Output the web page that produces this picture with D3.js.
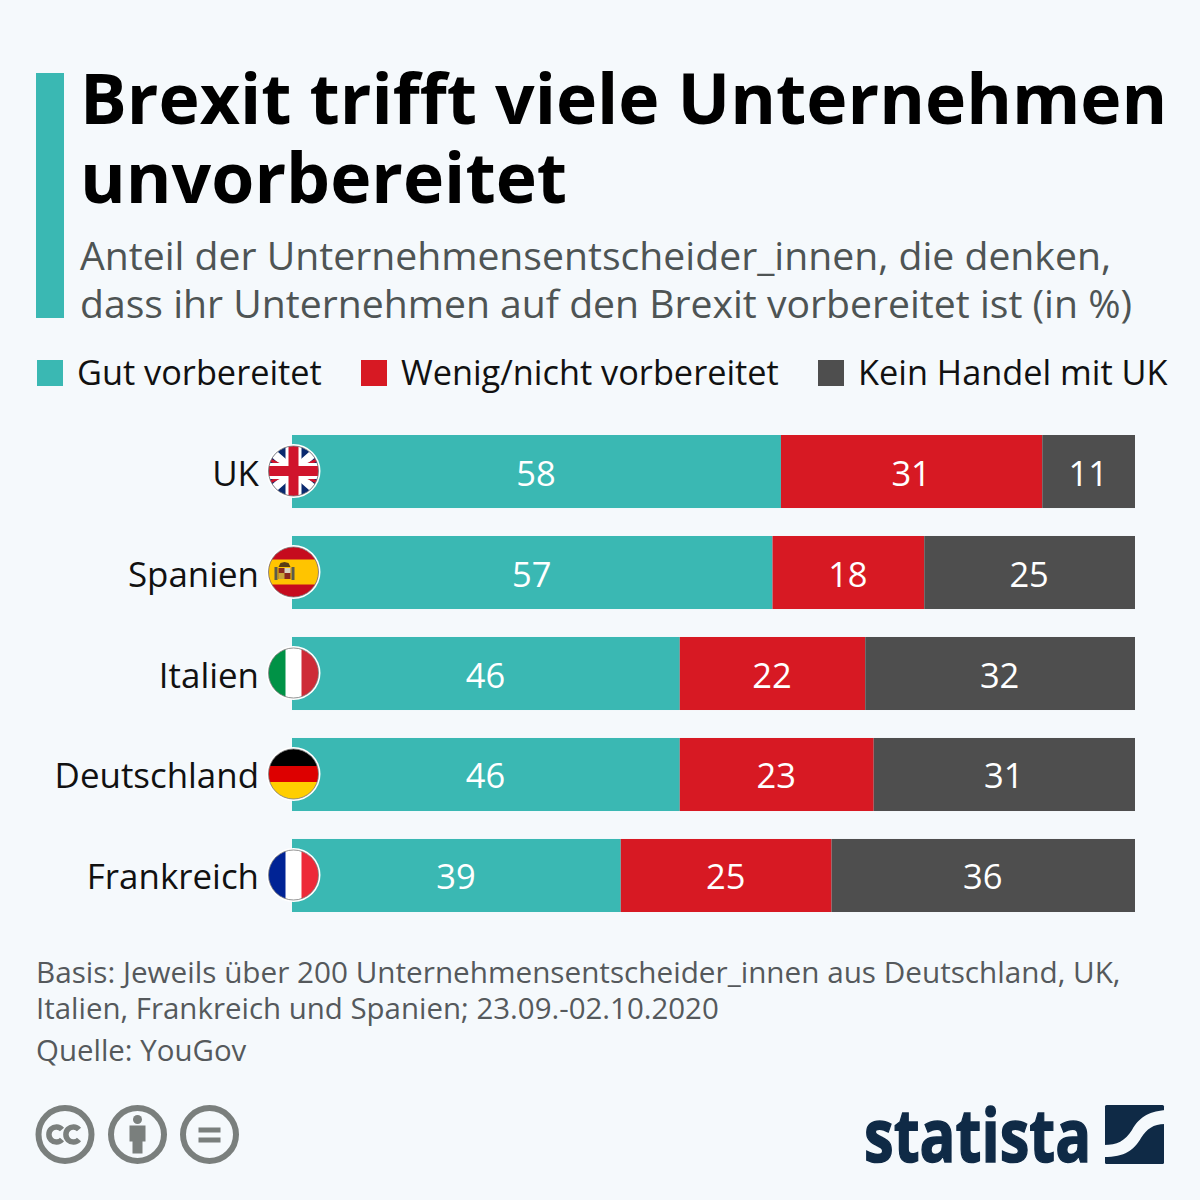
<!DOCTYPE html>
<html>
<head>
<meta charset="utf-8">
<script src="https://cdn.jsdelivr.net/npm/d3@7"></script>
<style>
html, body { margin: 0; padding: 0; background: #f5f9fc; }
svg { display: block; }
text { font-family: "Open Sans", sans-serif; }
</style>
</head>
<body>
<script>
// Daten
const categories = ["UK", "Spanien", "Italien", "Deutschland", "Frankreich"];
const gut = [58, 57, 46, 46, 39];
const wenig = [31, 18, 22, 23, 25];
const kein = [11, 25, 32, 31, 36];
const seriesNames = ["Gut vorbereitet", "Wenig/nicht vorbereitet", "Kein Handel mit UK"];
const seriesColors = ["#3ab8b3", "#d71923", "#4e4e4e"];
const titleLines = ["Brexit trifft viele Unternehmen", "unvorbereitet"];
const subtitleLines = ["Anteil der Unternehmensentscheider_innen, die denken,", "dass ihr Unternehmen auf den Brexit vorbereitet ist (in %)"];
const noteLines = ["Basis: Jeweils über 200 Unternehmensentscheider_innen aus Deutschland, UK,", "Italien, Frankreich und Spanien; 23.09.-02.10.2020"];
const sourceLine = "Quelle: YouGov";

const w = 1200;
const h = 1200;
const svg = d3.select("body").append("svg").attr("width", w).attr("height", h);
svg.append("rect").attr("width", w).attr("height", h).attr("fill", "#f5f9fc");
const defs = svg.append("defs");

// Kopf
svg.append("rect").attr("x", 36).attr("y", 73).attr("width", 28).attr("height", 245).attr("fill", "#3ab8b3");
svg.selectAll(".title").data(titleLines).enter().append("text")
    .attr("x", 80).attr("y", (d, i) => 124 + i * 79)
    .attr("font-size", 69.7).attr("font-weight", 700).attr("fill", "#000")
    .text(d => d);
svg.selectAll(".sub").data(subtitleLines).enter().append("text")
    .attr("x", 80).attr("y", (d, i) => 270 + i * 48)
    .attr("font-size", 39.15).attr("fill", "#4e5454")
    .text(d => d);

// Legende
const legendX = [37, 361, 818];
seriesNames.forEach((name, i) => {
    svg.append("rect").attr("x", legendX[i]).attr("y", 360).attr("width", 26).attr("height", 26).attr("fill", seriesColors[i]);
    svg.append("text").attr("x", legendX[i] + 40).attr("y", 385)
        .attr("font-size", 34.3).attr("fill", "#111").text(name);
});

// Skalen
const x = d3.scaleLinear().domain([0, 100]).range([292, 1135]);
const y = d3.scaleBand().domain(categories).range([421, 926]).paddingInner(0.277).paddingOuter(0.1386);

const rows = categories.map((c, i) => ({ c: c, values: [gut[i], wenig[i], kein[i]] }));
const stack = [];
rows.forEach(r => {
    let sum = 0;
    r.values.forEach((v, k) => {
        stack.push({ c: r.c, k: k, v: v, x0: sum, x1: sum + v });
        sum += v;
    });
});

svg.selectAll(".bar").data(stack).enter().append("rect")
    .attr("class", "bar")
    .attr("x", d => x(d.x0))
    .attr("y", d => y(d.c))
    .attr("width", d => x(d.x1) - x(d.x0))
    .attr("height", y.bandwidth())
    .attr("fill", d => seriesColors[d.k]);

svg.selectAll(".val").data(stack).enter().append("text")
    .attr("class", "val")
    .attr("x", d => x((d.x0 + d.x1) / 2) - 0.5)
    .attr("y", d => y(d.c) + y.bandwidth() / 2 + 14)
    .attr("text-anchor", "middle")
    .attr("font-size", 34.5)
    .attr("fill", "#fff")
    .text(d => d.v);

svg.selectAll(".cat").data(categories).enter().append("text")
    .attr("class", "cat")
    .attr("x", 259)
    .attr("y", d => y(d) + y.bandwidth() / 2 + 14)
    .attr("text-anchor", "end")
    .attr("font-size", 34.9)
    .attr("fill", "#111")
    .text(d => d);

// Flaggen (r = 25)
const R = 25;
const flagDraw = {
    UK: g => {
        g.append("rect").attr("x", -R).attr("y", -R).attr("width", 2 * R).attr("height", 2 * R).attr("fill", "#0b2a6f");
        g.append("path").attr("d", "M-25,-22L25,22M25,-22L-25,22").attr("stroke", "#fff").attr("stroke-width", 8);
        g.append("path").attr("d", "M-25,-12L-9,-4M25,12L9,4M25,-12L9,-4M-25,12L-9,4").attr("stroke", "#d0142c").attr("stroke-width", 3);
        g.append("path").attr("d", "M0,-25V25M-25,0H25").attr("stroke", "#fff").attr("stroke-width", 16);
        g.append("path").attr("d", "M0,-25V25M-25,0H25").attr("stroke", "#d0142c").attr("stroke-width", 10);
    },
    Spanien: g => {
        g.append("rect").attr("x", -R).attr("y", -R).attr("width", 2 * R).attr("height", 2 * R).attr("fill", "#c60b1e");
        g.append("rect").attr("x", -R).attr("y", -12.5).attr("width", 2 * R).attr("height", 25).attr("fill", "#ffc400");
        // Wappen
        g.append("rect").attr("x", -15).attr("y", -4).attr("width", 12).attr("height", 11).attr("fill", "#8a2a1e");
        g.append("rect").attr("x", -9).attr("y", -4).attr("width", 6).attr("height", 5).attr("fill", "#d9d4c0");
        g.append("rect").attr("x", -15).attr("y", 1).attr("width", 6).attr("height", 6).attr("fill", "#c9a63a");
        g.append("path").attr("d", "M-15,-5L-13,-9L-9,-10L-5,-9L-3,-5Z").attr("fill", "#5a3d14");
        g.append("rect").attr("x", -19).attr("y", -5).attr("width", 3).attr("height", 13).attr("fill", "#5b5a4c");
        g.append("rect").attr("x", -2).attr("y", -5).attr("width", 3).attr("height", 13).attr("fill", "#5b5a4c");
    },
    Italien: g => {
        g.append("rect").attr("x", -R).attr("y", -R).attr("width", 2 * R).attr("height", 2 * R).attr("fill", "#fff");
        g.append("rect").attr("x", -R).attr("y", -R).attr("width", 17).attr("height", 2 * R).attr("fill", "#009246");
        g.append("rect").attr("x", 8).attr("y", -R).attr("width", 17).attr("height", 2 * R).attr("fill", "#ce2b37");
    },
    Deutschland: g => {
        g.append("rect").attr("x", -R).attr("y", -R).attr("width", 2 * R).attr("height", 17).attr("fill", "#000");
        g.append("rect").attr("x", -R).attr("y", -8).attr("width", 2 * R).attr("height", 16).attr("fill", "#dd0000");
        g.append("rect").attr("x", -R).attr("y", 8).attr("width", 2 * R).attr("height", 17).attr("fill", "#ffce00");
    },
    Frankreich: g => {
        g.append("rect").attr("x", -R).attr("y", -R).attr("width", 2 * R).attr("height", 2 * R).attr("fill", "#fff");
        g.append("rect").attr("x", -R).attr("y", -R).attr("width", 17).attr("height", 2 * R).attr("fill", "#002395");
        g.append("rect").attr("x", 8).attr("y", -R).attr("width", 17).attr("height", 2 * R).attr("fill", "#ed2939");
    }
};
defs.append("clipPath").attr("id", "flagClip").append("circle").attr("r", R);
categories.forEach(c => {
    const g = svg.append("g").attr("transform", "translate(293.5," + (y(c) + y.bandwidth() / 2 - 0.5) + ")");
    g.append("circle").attr("r", R + 2).attr("fill", "#fff");
    const inner = g.append("g").attr("clip-path", "url(#flagClip)");
    flagDraw[c](inner);
    g.append("circle").attr("r", R).attr("fill", "none").attr("stroke", "#777").attr("stroke-width", 0.8);
});

// Fussnote
const noteSizes = [29.7, 29.45];
svg.selectAll(".note").data(noteLines).enter().append("text")
    .attr("x", 36).attr("y", (d, i) => 983 + i * 36)
    .attr("font-size", (d, i) => noteSizes[i]).attr("fill", "#55595c")
    .text(d => d);
svg.append("text").attr("x", 36).attr("y", 1061).attr("font-size", 29.45).attr("fill", "#55595c").text(sourceLine);

// CC-Icons
const iconGrey = "#7a7f7d";
[65, 137.5, 209.5].forEach((cx, i) => {
    const g = svg.append("g").attr("transform", "translate(" + cx + ",1134.5)");
    g.append("circle").attr("r", 26.5).attr("fill", "none").attr("stroke", iconGrey).attr("stroke-width", 6);
    if (i === 0) {
        g.append("path").attr("d", "M-3,-5A7.5,7.5 0 1 0 -3,5M14,-5A7.5,7.5 0 1 0 14,5").attr("fill", "none").attr("stroke", iconGrey).attr("stroke-width", 5.5);
    } else if (i === 1) {
        g.append("circle").attr("cy", -15).attr("r", 4.5).attr("fill", iconGrey);
        g.append("path").attr("d", "M-8,-9H8V7H5V19H-5V7H-8Z").attr("fill", iconGrey);
    } else {
        g.append("rect").attr("x", -11).attr("y", -7).attr("width", 22).attr("height", 5).attr("fill", iconGrey);
        g.append("rect").attr("x", -11).attr("y", 3).attr("width", 22).attr("height", 5).attr("fill", iconGrey);
    }
});

// Logo
const navy = "#0f2a46";
svg.append("text")
    .attr("transform", "translate(864,1162) scale(0.8,1)")
    .attr("font-size", 74).attr("font-weight", 700).attr("fill", navy)
    .attr("stroke", navy).attr("stroke-width", 1.5)
    .attr("textLength", 284).attr("lengthAdjust", "spacingAndGlyphs")
    .text("statista");
const logo = svg.append("g").attr("transform", "translate(1105,1105)");
logo.append("rect").attr("width", 59).attr("height", 59).attr("rx", 1.5).attr("fill", navy);
logo.append("path")
    .attr("d", "M-1,40C12,40 20,36 27,25C34,13 42,7 60,5L60,19C48,19 42,24 36,33C29,45 20,52 -1,52Z")
    .attr("fill", "#f5f9fc");
</script>
</body>
</html>
